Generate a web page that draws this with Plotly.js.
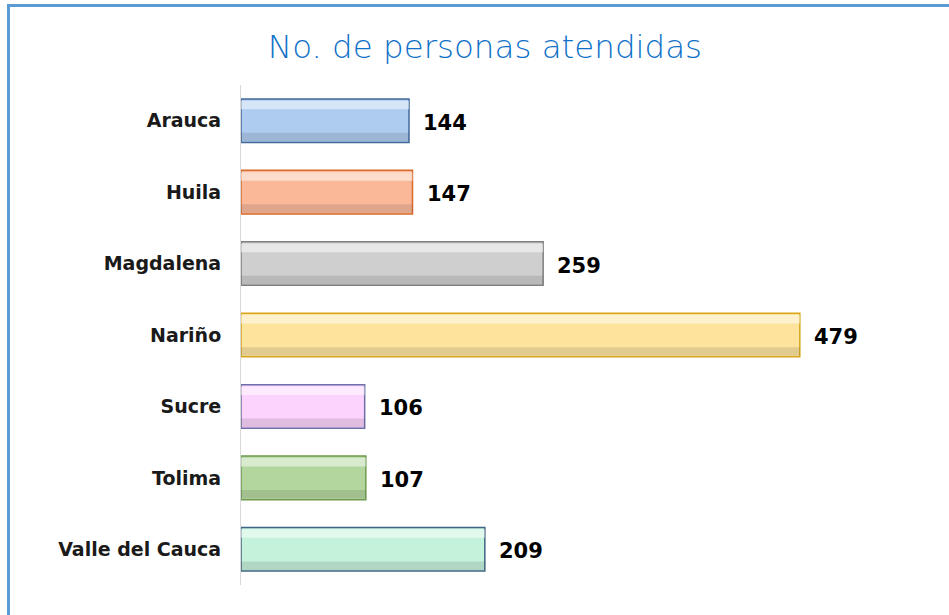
<!DOCTYPE html>
<html>
<head>
<meta charset="utf-8">
<script src="https://cdn.plot.ly/plotly-3.0.1.min.js"></script>
<style>
  html, body { margin: 0; padding: 0; background: #ffffff; }
  #frame { position: absolute; left: 7px; top: 4px; width: 942px; height: 611px;
           border-top: 3px solid #5b9bd5; border-left: 3px solid #5b9bd5; box-sizing: border-box; }
  #chart { position: absolute; left: 0; top: 0; width: 949px; height: 615px; }
</style>
</head>
<body>
<div id="frame"></div>
<div id="chart"></div>
<script>
const categories = ["Arauca", "Huila", "Magdalena", "Nariño", "Sucre", "Tolima", "Valle del Cauca"];
const values = [144, 147, 259, 479, 106, 107, 209];
const fillColors = ["#aecbf0", "#fbb899", "#cfcfcf", "#fee39c", "#fcd3fc", "#b3d69e", "#c4f2db"];
const lineColors = ["#41699b", "#d86a2c", "#7f7f7f", "#d9a51a", "#6d6fa8", "#6e9b4f", "#3f6582"];

const base = {
  type: "bar", orientation: "h", x: values, y: categories,
  width: 0.61,
  marker: { color: fillColors, line: { color: lineColors, width: 1.5 } },
  hoverinfo: "x+y"
};
const shade = {
  type: "bar", orientation: "h", x: values, y: categories,
  width: 0.12, offset: 0.17,
  marker: { color: "rgba(60,60,60,0.14)", line: { width: 0 } },
  hoverinfo: "skip"
};
const light = {
  type: "bar", orientation: "h", x: values, y: categories,
  width: 0.12, offset: -0.28,
  marker: { color: "rgba(255,255,255,0.5)", line: { width: 0 } },
  hoverinfo: "skip"
};

const annotations = categories.map((c, i) => ({
  x: values[i], y: c, xref: "x", yref: "y",
  text: String(values[i]), showarrow: false,
  xanchor: "left", xshift: 12, yshift: -2,
  font: { family: "DejaVu Sans, sans-serif", size: 21, color: "#000000", weight: "bold" }
}));

const layout = {
  width: 949, height: 615,
  paper_bgcolor: "rgba(0,0,0,0)", plot_bgcolor: "rgba(0,0,0,0)",
  margin: { l: 241, r: 29, t: 85, b: 30, pad: 0 },
  barmode: "overlay",
  showlegend: false,
  title: {
    text: "No. de personas atendidas",
    x: 0.511, xanchor: "center", y: 0.925, yanchor: "middle",
    font: { family: "DejaVu Sans, sans-serif", size: 32.5, color: "#0e70c8", weight: 200 }
  },
  xaxis: {
    range: [0, 582], showgrid: false, zeroline: false, showline: false,
    showticklabels: false, ticks: ""
  },
  yaxis: {
    autorange: "reversed", showgrid: false, zeroline: false,
    showline: true, linecolor: "#d9d9d9", linewidth: 1,
    ticks: "", ticklabelstandoff: 15,
    tickfont: { family: "DejaVu Sans, sans-serif", size: 19, color: "#1a1a1a", weight: "bold" }
  },
  annotations: annotations
};

Plotly.newPlot("chart", [base, shade, light], layout, { displayModeBar: false, staticPlot: true });
</script>
</body>
</html>
